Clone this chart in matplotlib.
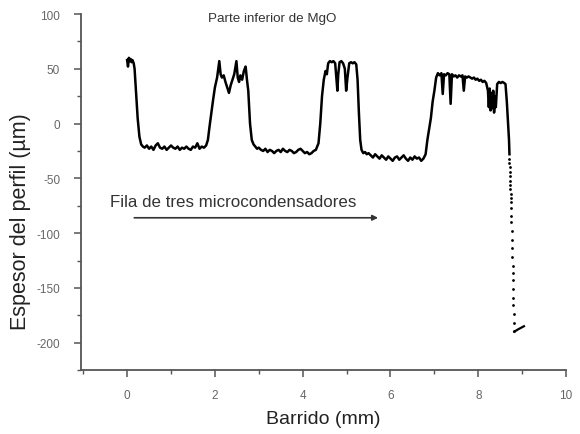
import matplotlib
matplotlib.use("Agg")
import matplotlib.pyplot as plt
from matplotlib.ticker import MultipleLocator

plt.rcParams['font.family'] = ['Liberation Sans', 'DejaVu Sans']
plt.rcParams['axes.unicode_minus'] = False

# Surface profile scan (mm, µm)
scan_x = [
    0.00, 0.02, 0.04, 0.06, 0.08, 0.10, 0.12, 0.15, 0.17,
    0.20, 0.24, 0.28, 0.32, 0.36,
    0.40, 0.45, 0.50, 0.55, 0.60, 0.65, 0.70, 0.75, 0.80, 0.85, 0.90, 0.95,
    1.00, 1.05, 1.10, 1.15, 1.20, 1.25, 1.30, 1.35, 1.40, 1.45, 1.50, 1.55,
    1.60, 1.65, 1.70, 1.75, 1.80,
    1.84, 1.88, 1.92, 1.96, 2.00, 2.05, 2.10,
    2.13, 2.16, 2.20, 2.24, 2.28, 2.32, 2.36, 2.40, 2.44, 2.49, 2.52, 2.55,
    2.58, 2.62, 2.66, 2.70, 2.73, 2.76, 2.80, 2.84, 2.88,
    2.92, 2.96, 3.00, 3.05, 3.10, 3.15, 3.20, 3.25, 3.30, 3.35, 3.40, 3.45,
    3.50, 3.55, 3.60, 3.65, 3.70, 3.75, 3.80, 3.85, 3.90, 3.95, 4.00, 4.05,
    4.10, 4.15, 4.20, 4.25, 4.30,
    4.36, 4.40, 4.44, 4.48, 4.52, 4.55,
    4.58, 4.62, 4.66, 4.70, 4.74, 4.77, 4.79, 4.81, 4.84, 4.88, 4.92, 4.96,
    4.99, 5.02, 5.06, 5.10, 5.14, 5.18, 5.22, 5.25, 5.28, 5.31, 5.34, 5.38,
    5.42, 5.46, 5.50, 5.55, 5.60, 5.65, 5.70, 5.75, 5.80, 5.85, 5.90, 5.95,
    6.00, 6.05, 6.10, 6.15, 6.20, 6.25, 6.30, 6.35, 6.40, 6.45, 6.50, 6.55,
    6.60, 6.65, 6.70, 6.75,
    6.80, 6.84, 6.88, 6.92, 6.96, 7.00, 7.04, 7.08,
    7.12, 7.16, 7.19, 7.22, 7.26, 7.30, 7.34, 7.37, 7.40, 7.44, 7.48, 7.52,
    7.56, 7.60, 7.64, 7.67, 7.70, 7.74, 7.78, 7.82, 7.86, 7.90, 7.94, 7.98,
    8.02, 8.06, 8.10, 8.14, 8.18, 8.22, 8.24, 8.26, 8.28, 8.30, 8.32, 8.34,
    8.36, 8.38, 8.40, 8.43, 8.47, 8.51, 8.55, 8.59, 8.62, 8.65, 8.68, 8.70, 8.71,
]
scan_y = [
    58, 52, 60, 57, 59, 56, 58, 55, 50,
    30, 5, -12, -19, -21,
    -22, -20, -23, -21, -24, -20, -18, -22, -23, -21, -24, -22,
    -20, -22, -23, -21, -24, -22, -23, -21, -23, -24, -21, -22,
    -18, -23, -21, -22, -20,
    -15, -2, 10, 22, 33, 42, 57,
    45, 42, 44, 38, 33, 28, 35, 40, 45, 57, 42, 38,
    44, 40, 48, 52, 40, 30, 0, -15, -19,
    -21, -23, -22, -24, -25, -23, -26, -24, -25, -27, -25, -24,
    -26, -23, -25, -26, -24, -25, -27, -26, -24, -23, -25, -27,
    -26, -28, -27, -25, -24,
    -18, 0, 25, 40, 48, 45,
    55, 57, 56, 57, 55, 40, 30, 45, 56, 57, 55, 50,
    30, 42, 55, 56, 55, 56, 54, 40, 10, -15, -24, -27,
    -26, -28, -27, -29, -31, -28, -30, -32, -29, -31, -33, -30,
    -32, -34, -31, -30, -33, -31, -29, -32, -34, -31, -33, -30,
    -32, -31, -34, -32,
    -28, -15, -5, 5, 20, 30, 42, 46,
    44, 46, 27, 45, 44, 46, 45, 18, 45, 43, 44, 42,
    44, 43, 44, 30, 43, 42, 43, 42, 41, 42, 40, 41,
    39, 40, 38, 39, 37, 30, 15, 32, 12, 28, 14, 30,
    10, 25, 15, 36, 38, 37, 38, 37, 36, 20, 0, -15, -28,
]

# Fast descent at the edge of the sample, recorded as sparse points
drop_x = [
    8.71, 8.71, 8.72, 8.72, 8.72, 8.73, 8.73, 8.73, 8.74, 8.74, 8.74,
    8.75, 8.75, 8.75, 8.76, 8.76, 8.77, 8.77, 8.78, 8.78, 8.79, 8.79,
    8.80, 8.80, 8.81, 8.81, 8.82,
]
drop_y = [
    -32, -36, -40, -44, -48, -52, -56, -60, -64, -68, -72,
    -77, -84, -90, -98, -106, -114, -122, -130, -136, -143, -151,
    -159, -166, -174, -182, -189,
]

# Final tail at the bottom of the descent
tail_x = [8.82, 8.90, 9.04]
tail_y = [-190, -188, -185]

x_ticks = [0, 2, 4, 6, 8, 10]
y_ticks = [100, 50, 0, -50, -100, -150, -200]

fig = plt.figure(figsize=(5.8, 4.35), dpi=100)
ax = fig.add_axes([0.1397, 0.147, 0.8363, 0.8185])

ax.plot(scan_x, scan_y, color='black', lw=1.8, solid_joinstyle='round')
ax.scatter(drop_x, drop_y, s=4, color='black', linewidths=0)
ax.plot(tail_x, tail_y, color='black', lw=1.6)

ax.set_xlim(-1.05, 10)
ax.set_ylim(-225, 100)
ax.set_xticks(x_ticks)
ax.set_yticks(y_ticks)
ax.xaxis.set_minor_locator(MultipleLocator(1))
ax.yaxis.set_minor_locator(MultipleLocator(25))

for side in ('top', 'right'):
    ax.spines[side].set_visible(False)
for side in ('left', 'bottom'):
    ax.spines[side].set_color('#555555')
    ax.spines[side].set_linewidth(1.3)

ax.tick_params(which='major', direction='out', length=5, width=1.1,
               color='#555555', labelsize=8.5, labelcolor='#666666')
ax.tick_params(axis='x', which='major', pad=9)
ax.tick_params(axis='y', which='major', pad=10)
ax.tick_params(which='minor', direction='out', length=3, width=1.0,
               color='#555555')

ax.set_xlabel('Barrido (mm)', fontsize=14, color='#222222')
ax.xaxis.set_label_coords(0.5, -0.112)
ax.set_ylabel('Espesor del perfil (µm)', fontsize=15.5, color='#222222')
ax.yaxis.set_label_coords(-0.103, 0.42)

ax.text(1.85, 96, 'Parte inferior de MgO', fontsize=9.6, color='#333333',
        ha='left', va='center')
ax.text(-0.4, -71, 'Fila de tres microcondensadores', fontsize=12.2,
        color='#333333', ha='left', va='center')
ax.annotate('', xy=(5.78, -86), xytext=(0.1, -86),
            arrowprops=dict(arrowstyle='-|>', color='#333333', lw=1.2,
                            mutation_scale=8))

fig.savefig('out.png', dpi=100)
